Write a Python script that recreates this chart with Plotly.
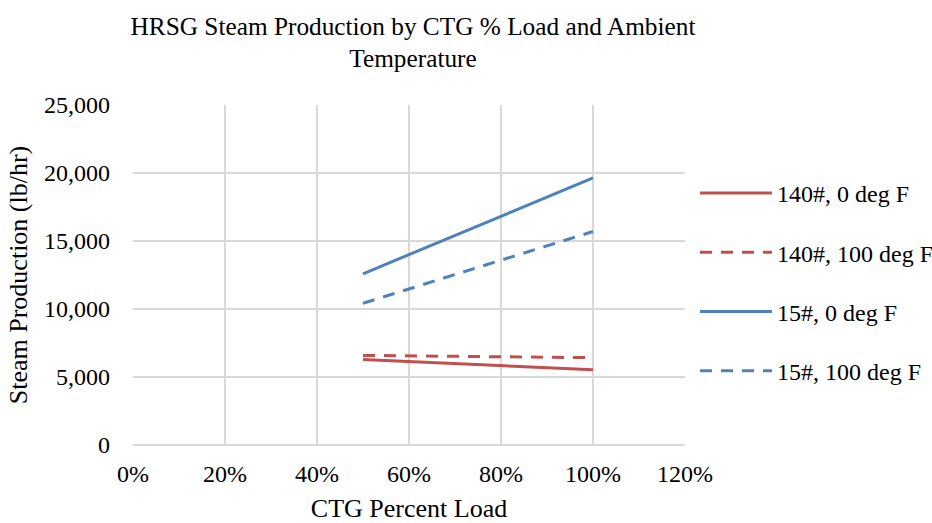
import plotly.graph_objects as go

load = [0.5, 1.0]
s140_0 = [6280, 5540]
s140_100 = [6590, 6420]
s15_0 = [12590, 19640]
s15_100 = [10420, 15700]

names = ["140#, 0 deg F", "140#, 100 deg F", "15#, 0 deg F", "15#, 100 deg F"]
series = [s140_0, s140_100, s15_0, s15_100]
colors = ["#C0504D", "#C0504D", "#4F81BD", "#4F81BD"]
dashes = ["solid", "12px,9px", "solid", "12px,9px"]

FONT = "Liberation Serif, Times New Roman, serif"

fig = go.Figure()
for i, (n, s, c, d) in enumerate(zip(names, series, colors, dashes)):
    fig.add_trace(go.Scatter(x=load, y=s, mode="lines", name=n,
                             legendgroup=str(i),
                             line=dict(color=c, width=3, dash=d)))

fig.update_layout(
    width=932, height=523,
    paper_bgcolor="white", plot_bgcolor="white",
    margin=dict(l=133, r=247, t=105, b=78),
    font=dict(family=FONT, size=24, color="#000000"),
    title=dict(text="HRSG Steam Production by CTG % Load and Ambient<br>Temperature",
               x=413/932, xanchor="center", y=1-34.5/523, yanchor="middle",
               font=dict(family=FONT, size=25.3, color="#000000")),
    xaxis=dict(range=[0, 1.2], dtick=0.2, tickformat=".0%", automargin=False,
               showgrid=True, gridcolor="#D9D9D9", gridwidth=2,
               zeroline=False, showline=False, ticks="", ticklabelstandoff=12,
               tickfont=dict(size=24),
               title=dict(text="CTG Percent Load", standoff=15, font=dict(size=26))),
    yaxis=dict(range=[0, 25000], dtick=5000, tickformat=",d", automargin=False,
               showgrid=True, gridcolor="#D9D9D9", gridwidth=2,
               zeroline=True, zerolinecolor="#D9D9D9", zerolinewidth=2,
               showline=False, ticks="", ticklabelstandoff=22,
               tickfont=dict(size=24),
               title=dict(text="Steam Production (lb/hr)", standoff=8, font=dict(size=26))),
    legend=dict(xref="container", yref="container",
                x=695/932, xanchor="left", y=1-282/523, yanchor="middle",
                tracegroupgap=25, font=dict(size=24),
                bgcolor="rgba(0,0,0,0)", itemwidth=72),
    showlegend=True,
)

fig.write_html(
    "out.html",
    config={"displayModeBar": False},
    post_script="document.body.style.margin='0';document.body.style.overflow='hidden';",
)
